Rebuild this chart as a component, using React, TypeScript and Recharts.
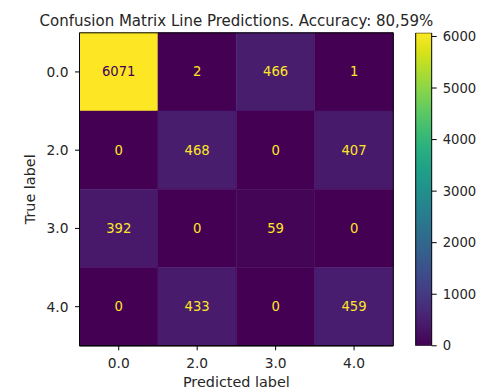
import React from 'react';
import { ComposedChart, XAxis, YAxis, ReferenceArea, Scatter, Bar, Label } from 'recharts';

const predictedLabels = ['0.0', '2.0', '3.0', '4.0'];
const trueLabels = ['0.0', '2.0', '3.0', '4.0'];
// rows = true label, cols = predicted label
const row00 = [6071, 2, 466, 1];
const row20 = [0, 468, 0, 407];
const row30 = [392, 0, 59, 0];
const row40 = [0, 433, 0, 459];
const matrix = [row00, row20, row30, row40];
const colorbarTicks = [0, 1000, 2000, 3000, 4000, 5000, 6000];
const title = 'Confusion Matrix Line Predictions. Accuracy: 80,59%';

const VIRIDIS = [
  '#440154', '#48186a', '#472d7b', '#424086', '#3b528b', '#33638d', '#2c728e', '#26828e',
  '#21918c', '#1fa088', '#28ae80', '#3fbc73', '#5ec962', '#84d44b', '#addc30', '#d8e219', '#fde725',
];

function hexToRgb(h: string) {
  return [parseInt(h.slice(1, 3), 16), parseInt(h.slice(3, 5), 16), parseInt(h.slice(5, 7), 16)];
}
function viridis(t: number) {
  const c = Math.max(0, Math.min(1, t));
  const pos = c * (VIRIDIS.length - 1);
  const i = Math.min(VIRIDIS.length - 2, Math.floor(pos));
  const f = pos - i;
  const a = hexToRgb(VIRIDIS[i]);
  const b = hexToRgb(VIRIDIS[i + 1]);
  const rgb = a.map((v, k) => Math.round(v + (b[k] - v) * f));
  return `rgb(${rgb[0]},${rgb[1]},${rgb[2]})`;
}

const allValues = matrix.flat();
const vmin = Math.min(...allValues);
const vmax = Math.max(...allValues);
const norm = (v: number) => (v - vmin) / (vmax - vmin);

const cells = matrix.flatMap((row, i) => row.map((v, j) => ({ x: j, y: i, v })));
const colorbarData = [{ name: 'colorbar', v: vmax }];

const FONT = 'DejaVu Sans';
const TEXT = '#262626';
const W = 479;
const H = 391;
const TICK_FS = 13.8;

const CellLabel = (props: any) => {
  const { cx, cy, payload } = props;
  const dark = norm(payload.v) < 0.5;
  return (
    <text
      x={cx}
      y={cy}
      textAnchor="middle"
      dominantBaseline="central"
      fontFamily={FONT}
      fontSize={13.2}
      fill={dark ? VIRIDIS[VIRIDIS.length - 1] : VIRIDIS[0]}
    >
      {payload.v}
    </text>
  );
};

export default function App() {
  const tickStyle = { fill: TEXT, fontSize: TICK_FS, fontFamily: FONT };
  return (
    <div style={{ position: 'absolute', left: 0, top: 0, width: W, height: H, background: '#fff' }}>
      <div style={{ position: 'absolute', left: 0, top: 0 }}>
        <ComposedChart width={W} height={H} margin={{ top: 32.8, right: 85.7, bottom: 0, left: 0 }}>
          <XAxis
            type="number"
            dataKey="x"
            domain={[-0.5, 3.5]}
            ticks={[0, 1, 2, 3]}
            tickFormatter={(v: number) => predictedLabels[v]}
            height={45.2}
            tick={tickStyle}
            tickSize={4.5}
            tickMargin={7.5}
            axisLine={{ stroke: '#000' }}
            tickLine={{ stroke: '#000' }}
            allowDataOverflow
          >
            <Label value="Predicted label" position="insideBottom" offset={4.3} fill={TEXT} fontSize={14.4} fontFamily={FONT} />
          </XAxis>
          <YAxis
            type="number"
            dataKey="y"
            domain={[-0.5, 3.5]}
            ticks={[0, 1, 2, 3]}
            reversed
            tickFormatter={(v: number) => trueLabels[v]}
            width={79.5}
            tick={tickStyle}
            tickSize={4.5}
            tickMargin={6.5}
            axisLine={{ stroke: '#000' }}
            tickLine={{ stroke: '#000' }}
            allowDataOverflow
          >
            <Label
              value="True label"
              angle={-90}
              position="insideLeft"
              offset={30}
              fill={TEXT}
              fontSize={14.4}
              fontFamily={FONT}
              style={{ textAnchor: 'middle' }}
            />
          </YAxis>
          {cells.map((c) => (
            <ReferenceArea
              key={`${c.x}-${c.y}`}
              x1={c.x - 0.5}
              x2={c.x + 0.5}
              y1={c.y - 0.5}
              y2={c.y + 0.5}
              fill={viridis(norm(c.v))}
              fillOpacity={1}
              stroke={viridis(norm(c.v))}
              strokeWidth={0.5}
              ifOverflow="visible"
            />
          ))}
          <ReferenceArea
            x1={-0.5}
            x2={3.5}
            y1={-0.5}
            y2={3.5}
            fill="none"
            fillOpacity={0}
            stroke="#000"
            strokeWidth={1}
            ifOverflow="visible"
          />
          <Scatter data={cells} shape={CellLabel} isAnimationActive={false} />
        </ComposedChart>
      </div>
      <div style={{ position: 'absolute', left: 0, top: 0 }}>
        <ComposedChart
          width={W}
          height={H}
          data={colorbarData}
          barCategoryGap={0}
          margin={{ top: 32.8, right: 7.3, bottom: 45.2, left: 415.7 }}
        >
          <defs>
            <linearGradient id="viridisGrad" x1="0" y1="1" x2="0" y2="0">
              {VIRIDIS.map((c, i) => (
                <stop key={i} offset={`${(i / (VIRIDIS.length - 1)) * 100}%`} stopColor={c} />
              ))}
            </linearGradient>
          </defs>
          <XAxis type="category" dataKey="name" hide />
          <YAxis
            type="number"
            orientation="right"
            domain={[vmin, vmax]}
            ticks={colorbarTicks}
            width={40}
            tick={{ ...tickStyle, fontSize: 13.2 }}
            tickSize={5}
            tickMargin={6}
            axisLine={false}
            tickLine={{ stroke: '#000' }}
            allowDataOverflow
          />
          <Bar dataKey="v" fill="url(#viridisGrad)" stroke="#000" strokeWidth={1} isAnimationActive={false} />
        </ComposedChart>
      </div>
      <svg width={W} height={H} style={{ position: 'absolute', left: 0, top: 0, pointerEvents: 'none' }}>
        <text x={236.4} y={26.2} textAnchor="middle" fontFamily={FONT} fontSize={15} fill={TEXT}>
          {title}
        </text>
      </svg>
    </div>
  );
}
